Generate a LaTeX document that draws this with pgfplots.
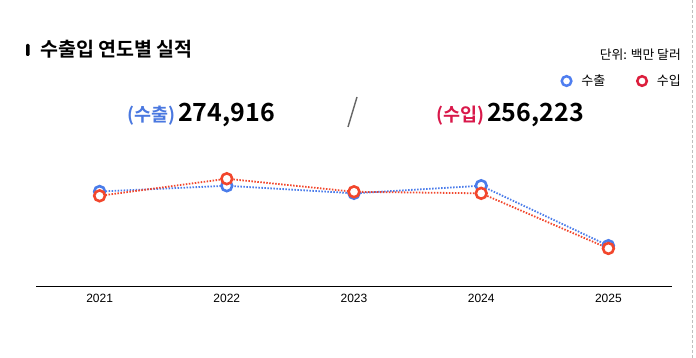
\documentclass[border=0pt]{standalone}
\usepackage{pgfplots}
\pgfplotsset{compat=1.18}
\usepackage{fontspec}
\setmainfont{Liberation Sans}
\newfontfamily\kr{Noto Sans CJK KR}[BoldFont={Noto Sans CJK KR Bold}]
\definecolor{expblue}{HTML}{4A7CEA}
\definecolor{impred}{HTML}{F2462C}
\definecolor{legblue}{HTML}{4F7EF0}
\definecolor{legred}{HTML}{DC1E3C}
\definecolor{labblue}{HTML}{4A78E0}
\definecolor{labred}{HTML}{D9184A}
\begin{document}
\begin{tikzpicture}
\path[use as bounding box, fill=white] (0pt,0pt) rectangle (696pt,358pt);
\draw[black!25, line width=0.8pt, dash pattern=on 3pt off 2pt] (692pt,0pt) -- (692pt,358pt);
% title
\fill[black, rounded corners=1.2pt] (26pt,302pt) rectangle (29.5pt,314pt);
\node[anchor=west, inner sep=0pt, font=\kr\bfseries\fontsize{19.5}{21}\selectfont] at (40pt,309pt) {수출입 연도별 실적};
\node[anchor=east, inner sep=0pt, font=\kr\fontsize{12.8}{14}\selectfont] at (681pt,303pt) {단위: 백만 달러};
% totals
\node[anchor=base west, inner sep=0pt] at (127pt,236pt) {{\kr\bfseries\fontsize{18.5}{22}\selectfont\color{labblue}(수출)}\hspace{3pt}{\kr\bfseries\fontsize{25}{30}\selectfont 274,916}};
\node[anchor=base west, inner sep=0pt] at (436pt,236pt) {{\kr\bfseries\fontsize{18.5}{22}\selectfont\color{labred}(수입)}\hspace{3pt}{\kr\bfseries\fontsize{25}{30}\selectfont 256,223}};
\draw[black!60, line width=1.4pt] (348pt,231pt) -- (357pt,261pt);
\begin{axis}[
  at={(36pt,72pt)}, anchor=south west,
  scale only axis, width=636pt, height=156pt,
  xmin=-0.5, xmax=4.5, ymin=0, ymax=1064000,
  axis x line*=bottom, axis y line=none,
  x axis line style={black, line width=0.9pt, -},
  xtick={0,1,2,3,4}, xticklabels={2021,2022,2023,2024,2025},
  major tick length=0pt,
  tick label style={font=\fontsize{12}{14}\selectfont},
  xticklabel style={yshift=-5pt},
  clip=false,
  legend style={draw=none, fill=none, at={(1.022,1.314)}, anchor=east,
    font=\kr\fontsize{13}{15}\selectfont, legend columns=2,
    /tikz/every odd column/.append style={column sep=8pt},
    /tikz/every even column/.append style={column sep=30pt}},
  legend cell align=left,
]
\addplot[forget plot, expblue, line width=1.8pt, dash pattern=on 1.5pt off 1.5pt,
  mark=*, mark size=5.4pt, mark options={solid, draw=expblue, fill=white, line width=2.6pt}]
  coordinates {(0,644400) (1,683584) (2,632226) (3,683751) (4,274916)};
\addplot[forget plot, impred, line width=1.8pt, dash pattern=on 1.5pt off 1.5pt,
  mark=*, mark size=5.4pt, mark options={solid, draw=impred, fill=white, line width=2.6pt}]
  coordinates {(0,615093) (1,731370) (2,642572) (3,632046) (4,256223)};
\addlegendimage{only marks, mark=*, mark size=4.8pt, mark options={draw=legblue, fill=white, line width=2.5pt}}
\addlegendentry{수출}
\addlegendimage{only marks, mark=*, mark size=4.8pt, mark options={draw=legred, fill=white, line width=2.5pt}}
\addlegendentry{수입}
\end{axis}
\end{tikzpicture}
\end{document}
